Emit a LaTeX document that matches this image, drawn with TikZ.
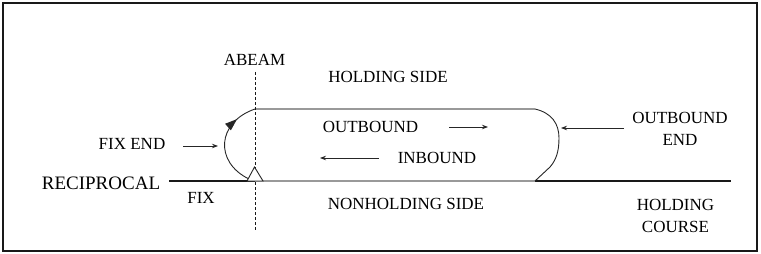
\documentclass[tikz,border=0pt]{standalone}
\usepackage{fontspec}
\setmainfont{Liberation Serif}
\usetikzlibrary{arrows.meta,decorations.markings}
\begin{document}
\begin{tikzpicture}[x=1pt,y=-1pt,
  lbl/.style={inner sep=0pt,font=\fontsize{17}{22}\selectfont,text=black,align=center},
  biglbl/.style={inner sep=0pt,font=\fontsize{19}{22}\selectfont,text=black},
  track/.style={draw=black!40,line width=2pt},
  thinline/.style={draw=black!85,line width=0.9pt},
  ptr/.style={thinline,-{Stealth[length=6pt,width=4.5pt]}},
  turnarrow/.style={thinline,postaction={decorate},decoration={markings,
     mark=at position 0.78 with {\arrow{Triangle[length=12pt,width=8.5pt]}}}}]
\useasboundingbox (0,0) rectangle (761,254);
\draw[line width=1.2pt,black!90] (3,3) rectangle (757,251);

% coordinates
\coordinate (trTL) at (255,109);
\coordinate (trTR) at (535,109);
\coordinate (trBL) at (255,181);
\coordinate (trBR) at (535,181);
\coordinate (crsL) at (169,181);
\coordinate (crsR) at (731,181);
\coordinate (abT) at (255,72);
\coordinate (abB) at (255,230);
\coordinate (turnS) at (249,179);

% labels
\node[lbl] (abeam) at (254.5,60) {ABEAM};
\node[lbl] (hside) at (388,77) {HOLDING SIDE};
\node[lbl] (outb) at (370.5,127) {OUTBOUND};
\node[lbl] (inb) at (437,158) {INBOUND};
\node[lbl] (outend) at (680,128.5) {OUTBOUND\\END};
\node[lbl] (fixend) at (132,144) {FIX END};
\node[biglbl] (recip) at (101,183) {RECIPROCAL};
\node[lbl] (fix) at (201,198) {FIX};
\node[lbl] (nhside) at (406,204) {NONHOLDING SIDE};
\node[lbl] (hcourse) at (675.5,215.5) {HOLDING\\COURSE};

% arrow end points
\coordinate (a1s) at (449,127); \coordinate (a1e) at (488,127);
\coordinate (a2s) at (379,158); \coordinate (a2e) at (320,158);
\coordinate (a3s) at (624,128); \coordinate (a3e) at (561,128);
\coordinate (a4s) at (183,146); \coordinate (a4e) at (218,146);

% course line and track
\draw[line width=1.3pt,black!90] (crsL) -- (crsR);
\draw[track] (trTL) -- (trTR);
\draw[track] (trBL) -- (trBR);
\draw[thinline] (trTR) .. controls (552,113) and (559,124) .. (559,138)
   .. controls (559,152) and (556,160) .. (550,167) -- (trBR);
\draw[turnarrow] (turnS) .. controls (214,162) and (217,122) .. (trTL);

% abeam dashed line
\draw[black!90,line width=0.8pt,dash pattern=on 3pt off 2pt] (abT) -- (abB);

% fix triangle
\draw[thinline,fill=white] (247,181) -- (254.5,167) -- (263,181) -- cycle;

% arrows
\draw[ptr] (a1s) -- (a1e);
\draw[ptr] (a2s) -- (a2e);
\draw[ptr] (a3s) -- (a3e);
\draw[ptr] (a4s) -- (a4e);
\end{tikzpicture}
\end{document}
